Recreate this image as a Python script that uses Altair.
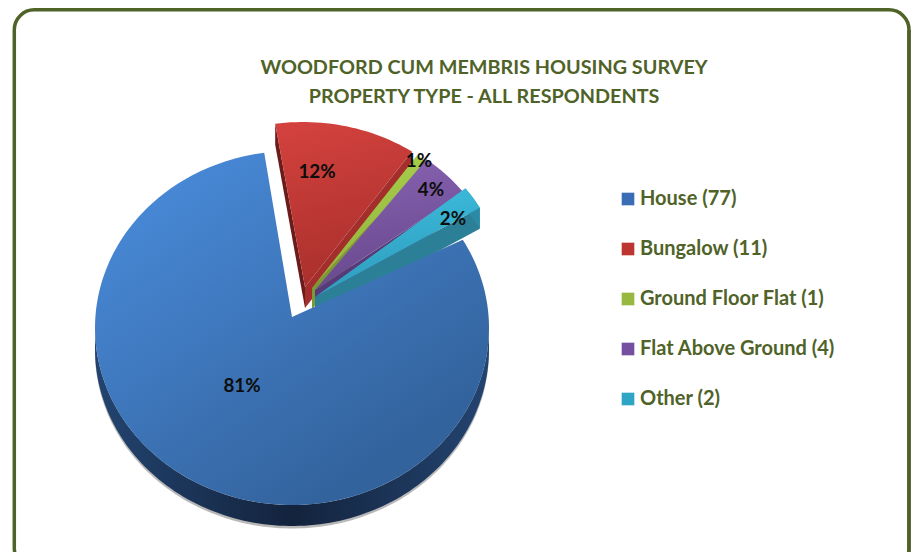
import math
import altair as alt
import pandas as pd

# --- chart values ---
categories = ["House", "Bungalow", "Ground Floor Flat", "Flat Above Ground", "Other"]
counts = [77, 11, 1, 4, 2]
legend_labels = [f"{c} ({n})" for c, n in zip(categories, counts)]
swatches = ["#3a6db4", "#bd3531", "#97b93f", "#7550a0", "#2fa5c6"]

# slice styling (top-left and bottom-right colour of each face, wall colour)
face_a = ["#4a8cdc", "#d2413d", "#a9d04c", "#8762b0", "#3cbcdc"]
face_b = ["#33639d", "#a82f2c", "#8fb03a", "#67478c", "#2e9abb"]
wall_col = ["#1a3357", "#a32e2b", "#7b9a33", "#573a78", "#2b7f96"]

TITLE_LINES = ["WOODFORD CUM MEMBRIS HOUSING SURVEY", "PROPERTY TYPE - ALL RESPONDENTS"]
GREEN = "#4f6228"
FONT = "Lato"

# --- layout: canvas and ellipse of the tilted pie, in page pixels ---
W, H = 905, 544
CX, CY, RX, RY = 292.0, 328.0, 197.0, 177.0
DEPTH = 21.0
START = 60.1  # clock angle where House starts
# per slice: ellipse centre and apex, in page pixels (exploded slices are moved)
centres = [(292, 328), (303, 299), (308, 303), (307, 300), (309, 296)]
apexes = [(292, 317), (305, 287), (312, 288), (315, 290), (315, 297)]
label_px = [(242, 386), (317, 172), (419, 161), (431, 190), (453, 219)]

to_u = lambda px: (px - CX) / RX
to_v = lambda py: (CY - py) / RY
X_DOM = [to_u(8), to_u(8 + W)]
Y_DOM = [to_v(8 + H), to_v(8)]

total = sum(counts)
spans = [n / total * 360 for n in counts]
starts = []
a = START
for s in spans:
    starts.append(a)
    a += s


def arc_pts(i, t0, t1, dy=0.0, step=1.5):
    cx, cy = centres[i]
    n = max(2, int(abs(t1 - t0) / step) + 1)
    out = []
    for k in range(n + 1):
        t = math.radians(t0 + (t1 - t0) * k / n)
        out.append((cx + RX * math.sin(t), cy + dy - RY * math.cos(t)))
    return out


def frame(pts):
    return pd.DataFrame(
        {"x": [to_u(p[0]) for p in pts], "y": [to_v(p[1]) for p in pts], "o": list(range(len(pts)))}
    )


X = alt.X("x:Q", scale=alt.Scale(domain=X_DOM, nice=False, zero=False), axis=None)
Y = alt.Y("y:Q", scale=alt.Scale(domain=Y_DOM, nice=False, zero=False), axis=None)


def poly(pts, fill, opacity=1.0):
    return (
        alt.Chart(frame(pts))
        .mark_line(fill=fill, stroke=None, strokeWidth=0, fillOpacity=opacity)
        .encode(x=X, y=Y, order="o:Q")
    )


def grad(c0, c1, x1=0.0, y1=0.0, x2=1.0, y2=1.0):
    return alt.Gradient(
        gradient="linear",
        stops=[alt.GradientStop(color=c0, offset=0), alt.GradientStop(color=c1, offset=1)],
        x1=x1, y1=y1, x2=x2, y2=y2,
    )


def shift(pts, dy):
    return [(p[0], p[1] + dy) for p in pts]


layers = []
# panel frame
base = pd.DataFrame({"a": [0]})
layers.append(
    alt.Chart(base)
    .mark_rect(fill="white", stroke=GREEN, strokeWidth=3.5, cornerRadius=20)
    .encode(x=alt.value(6.3), x2=alt.value(901), y=alt.value(1.8), y2=alt.value(560))
)
layers.append(
    alt.Chart(base)
    .mark_rule(color=GREEN, strokeWidth=3.5)
    .encode(x=alt.value(901), y=alt.value(22), y2=alt.value(544))
)

# exploded slices: walls first
for i in [1, 2, 3, 4]:
    arc = arc_pts(i, starts[i], starts[i] + spans[i])
    ap = apexes[i]
    right_edge = [arc[-1], ap]
    layers.append(poly(right_edge + shift(right_edge[::-1], DEPTH), wall_col[i]))
# red left wall
arc = arc_pts(1, starts[1], starts[1] + spans[1])
left_edge = [arc[0], apexes[1]]
layers.append(poly(left_edge + shift(left_edge[::-1], DEPTH), "#6b1b19"))
# teal outer wall
arc = arc_pts(4, starts[4], starts[4] + spans[4])
layers.append(poly(arc + shift(arc[::-1], DEPTH), "#2a8ba6"))
for i in [1, 2, 3, 4]:
    arc = arc_pts(i, starts[i], starts[i] + spans[i])
    layers.append(poly([apexes[i]] + arc, grad(face_a[i], face_b[i], 0.3, 0, 0.5, 1)))

# House: soft shadow, wall, face
low = arc_pts(0, 90, 270)
layers.append(poly(low + shift(low[::-1], DEPTH + 2.5), "#9a9a9a", 0.7))
layers.append(
    poly(low + shift(low[::-1], DEPTH),
         alt.Gradient(
             gradient="linear",
             stops=[
                 alt.GradientStop(color="#234470", offset=0),
                 alt.GradientStop(color="#13233d", offset=0.5),
                 alt.GradientStop(color="#234470", offset=1),
             ],
             x1=0, y1=0, x2=1, y2=0,
         ))
)
arc = arc_pts(0, starts[0], starts[0] + spans[0])
layers.append(poly([apexes[0]] + arc, grad(face_a[0], face_b[0], 0.1, 0.0, 0.75, 0.85)))

# percentage labels
labels = pd.DataFrame(
    {
        "x": [to_u(p[0]) for p in label_px],
        "y": [to_v(p[1]) for p in label_px],
        "t": [f"{round(n / total * 100)}%" for n in counts],
    }
)
layers.append(
    alt.Chart(labels)
    .mark_text(font=FONT, fontSize=18.8, fontWeight="bold", color="#0d0d0d")
    .encode(x=X, y=Y, text="t:N")
)

# title
for line, py in zip(TITLE_LINES, [68 - 8, 97 - 8]):
    layers.append(
        alt.Chart(pd.DataFrame({"t": [line]}))
        .mark_text(font=FONT, fontSize=19.8, fontWeight="bold", color=GREEN, baseline="middle")
        .encode(x=alt.value(484 - 8), y=alt.value(py), text="t:N")
    )

# legend
layers.append(
    alt.Chart(pd.DataFrame({"c": legend_labels}))
    .mark_square(opacity=0)
    .encode(
        x=alt.value(0),
        y=alt.value(0),
        color=alt.Color(
            "c:N",
            scale=alt.Scale(domain=legend_labels, range=swatches),
            legend=alt.Legend(
                orient="none",
                legendX=610,
                legendY=181,
                title=None,
                symbolType="square",
                symbolSize=160,
                symbolOpacity=1,
                symbolStrokeWidth=0,
                labelFont=FONT,
                labelFontSize=20,
                labelFontWeight="bold",
                labelColor=GREEN,
                labelLimit=300,
                labelOffset=2,
                rowPadding=30,
                padding=0,
            ),
        ),
    )
)

chart = (
    alt.layer(*layers)
    .properties(width=W, height=H, padding=0, background="white", autosize=alt.AutoSizeParams(type="none"))
    .configure_view(strokeWidth=0)
)
chart.save("out.html", embed_options={"renderer": "svg", "actions": False})
